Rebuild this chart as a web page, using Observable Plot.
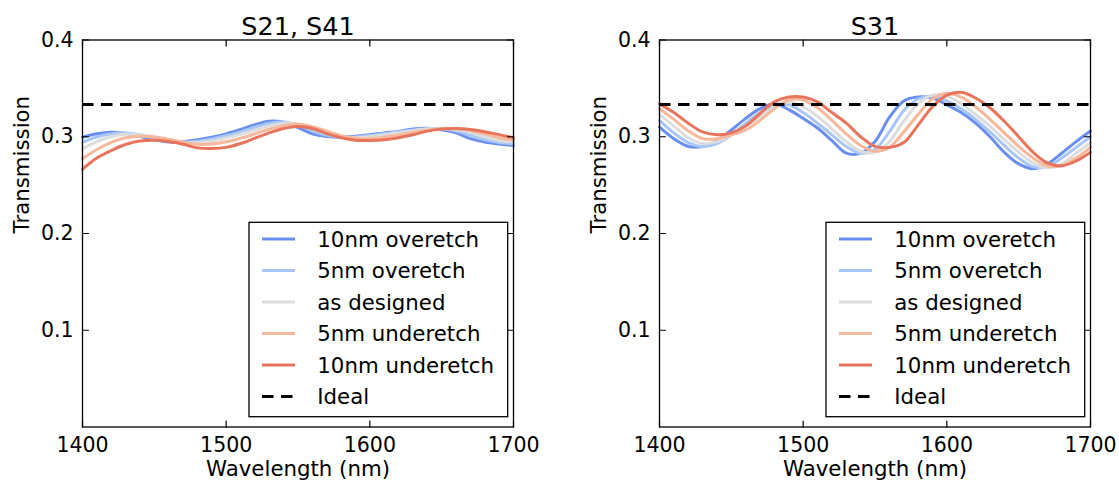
<!DOCTYPE html>
<html><head><meta charset="utf-8">
<script src="https://cdn.jsdelivr.net/npm/d3@7"></script>
<script src="https://cdn.jsdelivr.net/npm/@observablehq/plot@0.6"></script>
<style>
html,body{margin:0;padding:0;background:#fff;}
#wrap{display:flex;width:1119px;height:484px;overflow:hidden;}
#wrap svg{display:block;}
</style></head><body><div id="wrap"></div>
<script>
// ---- data ----
const wavelengths = [1400,1410,1420,1430,1440,1450,1460,1470,1480,1490,1500,1510,1520,1530,1540,1550,1560,1570,1580,1590,1600,1610,1620,1630,1640,1650,1660,1670,1680,1690,1700];
const seriesNames = ["10nm overetch","5nm overetch","as designed","5nm underetch","10nm underetch"];
const seriesColors = ["#6b8ff0","#a9c6fb","#dcdddd","#f7b89c","#e7745b"];
const idealName = "Ideal";
const idealValue = 1/3;
const xTicks = [1400,1500,1600,1700];
const yTicks = [0.1,0.2,0.3,0.4];
const panelTitles = ["S21, S41","S31"];

// S21, S41
const s21_over10  = [.2995,.3030,.3047,.3035,.3005,.2968,.2945,.2948,.2968,.2995,.3030,.3075,.3125,.3160,.3150,.3095,.3030,.3003,.2995,.3005,.3020,.3040,.3055,.3080,.3088,.3072,.3040,.2980,.2945,.2925,.2910];
const s21_over5   = [.2944,.2998,.3030,.3040,.3022,.2988,.2955,.2942,.2953,.2978,.3010,.3050,.3098,.3140,.3152,.3120,.3062,.3015,.2995,.2998,.3012,.3032,.3050,.3070,.3085,.3082,.3060,.3015,.2970,.2940,.2925];
const s21_design  = [.2875,.2950,.3000,.3025,.3022,.3000,.2968,.2942,.2938,.2955,.2988,.3025,.3068,.3112,.3140,.3130,.3088,.3035,.3000,.2990,.3000,.3020,.3042,.3062,.3080,.3085,.3075,.3045,.3000,.2962,.2945];
const s21_under5  = [.2772,.2868,.2942,.2990,.3005,.2998,.2975,.2945,.2922,.2925,.2948,.2985,.3030,.3078,.3115,.3128,.3105,.3058,.3012,.2985,.2980,.2995,.3018,.3045,.3068,.3082,.3082,.3065,.3030,.2990,.2965];
const s21_under10 = [.2665,.2780,.2858,.2920,.2955,.2963,.2950,.2922,.2885,.2878,.2890,.2930,.2985,.3040,.3085,.3106,.3085,.3032,.2990,.2965,.2962,.2968,.2990,.3020,.3058,.3080,.3086,.3076,.3052,.3022,.2990];

// S31
const s31_over10  = [.310,.298,.290,.290,.296,.307,.319,.329,.334,.328,.319,.309,.296,.283,.283,.295,.320,.337,.341,.340,.333,.325,.314,.300,.284,.272,.267,.272,.283,.295,.306];
const s31_over5   = [.317,.304,.294,.290,.293,.302,.314,.325,.333,.333,.325,.314,.302,.290,.283,.287,.305,.327,.339,.342,.337,.329,.318,.305,.291,.278,.269,.269,.278,.289,.300];
const s31_design  = [.323,.311,.299,.293,.295,.302,.311,.321,.331,.336,.331,.321,.308,.295,.285,.284,.295,.316,.334,.343,.342,.334,.323,.311,.297,.284,.273,.268,.272,.283,.294];
const s31_under5  = [.329,.318,.306,.298,.298,.302,.307,.317,.329,.338,.338,.330,.317,.303,.291,.285,.289,.305,.323,.339,.345,.341,.331,.318,.304,.290,.278,.270,.270,.278,.289];
const s31_under10 = [.334,.325,.314,.305,.302,.304,.311,.324,.336,.341,.341,.336,.325,.314,.300,.290,.289,.294,.312,.331,.343,.346,.340,.330,.316,.300,.284,.273,.270,.275,.284];

const panelSeries = [
  [s21_over10, s21_over5, s21_design, s21_under5, s21_under10],
  [s31_over10, s31_over5, s31_design, s31_under5, s31_under10]
];

// ---- drawing ----
const FONT = "DejaVu Sans";
const LW = 3;
const tickShape = {draw(ctx, l) { ctx.moveTo(0, 0); ctx.lineTo(0, -l); }};
const tickOpts = {stroke: "black", strokeWidth: 1.2, length: 6, anchor: "start", shape: tickShape};

function makePanel(pi, width, marginLeft, marginRight) {
  const rows = [];
  panelSeries[pi].forEach((vals, si) => {
    vals.forEach((v, i) => rows.push({wl: wavelengths[i], v, series: seriesNames[si]}));
  });
  const chart = Plot.plot({
    width, height: 484,
    marginLeft, marginRight, marginTop: 39.5, marginBottom: 57.5,
    style: {fontFamily: FONT, fontSize: "20px", background: "white", color: "black", overflow: "visible"},
    x: {domain: [1400, 1700]},
    y: {domain: [0, 0.4]},
    color: {domain: seriesNames, range: seriesColors},
    marks: [
      Plot.line(rows, {x: "wl", y: "v", stroke: "series", z: "series", curve: "catmull-rom", strokeWidth: LW, strokeLinejoin: "round"}),
      Plot.ruleY([idealValue], {stroke: "black", strokeWidth: LW, strokeDasharray: "11.5,7.5"}),
      Plot.frame({stroke: "black", strokeWidth: 1.3}),
      Plot.vector(xTicks, {x: d => d, frameAnchor: "bottom", rotate: 0, ...tickOpts}),
      Plot.vector(xTicks, {x: d => d, frameAnchor: "top", rotate: 180, ...tickOpts}),
      Plot.vector(yTicks, {y: d => d, frameAnchor: "left", rotate: 90, ...tickOpts}),
      Plot.vector(yTicks, {y: d => d, frameAnchor: "right", rotate: -90, ...tickOpts}),
      Plot.axisX({ticks: xTicks, tickSize: 0, tickPadding: 10, tickFormat: d => String(d), label: null, fontSize: 20.5}),
      Plot.axisY({ticks: yTicks, tickSize: 0, tickPadding: 9, tickFormat: d => d.toFixed(1), label: null, fontSize: 20.5}),
      Plot.text([panelTitles[pi]], {frameAnchor: "top", lineAnchor: "bottom", dy: -5, fontSize: 25.5, fill: "black"}),
      Plot.text(["Wavelength (nm)"], {frameAnchor: "bottom", lineAnchor: "top", dy: 34, fontSize: 21.3, fill: "black"}),
      Plot.text(["Transmission"], {frameAnchor: "left", rotate: -90, dx: -60, fontSize: 21.3, fill: "black"})
    ]
  });
  // legend
  const xr = chart.scale("x").range, yr = chart.scale("y").range;
  const right = Math.max(...xr), bottom = Math.max(...yr);
  const x0 = right - 264, x1 = right - 5.3, y0 = bottom - 204.2, y1 = bottom - 9.8;
  const svg = d3.select(chart);
  const g = svg.append("g").attr("font-family", FONT).attr("font-size", 21.3).attr("text-anchor", "start");
  g.append("rect").attr("x", x0).attr("y", y0).attr("width", x1 - x0).attr("height", y1 - y0)
    .attr("fill", "white").attr("stroke", "black").attr("stroke-width", 1.3);
  const entries = seriesNames.map((n, i) => ({name: n, color: seriesColors[i], dash: null}))
    .concat([{name: idealName, color: "black", dash: "11.5,7.5"}]);
  entries.forEach((e, i) => {
    const yy = y0 + 16.7 + i * 31.5;
    g.append("line").attr("x1", x0 + 13).attr("x2", x0 + 46).attr("y1", yy).attr("y2", yy)
      .attr("stroke", e.color).attr("stroke-width", LW).attr("stroke-dasharray", e.dash);
    g.append("text").attr("x", x0 + 68.3).attr("y", yy).attr("dy", "0.365em")
      .attr("text-anchor", "start").attr("fill", "black").text(e.name);
  });
  return chart;
}

const wrap = document.getElementById("wrap");
wrap.appendChild(makePanel(0, 560, 82, 47));
wrap.appendChild(makePanel(1, 559, 99, 29));
</script></body></html>
